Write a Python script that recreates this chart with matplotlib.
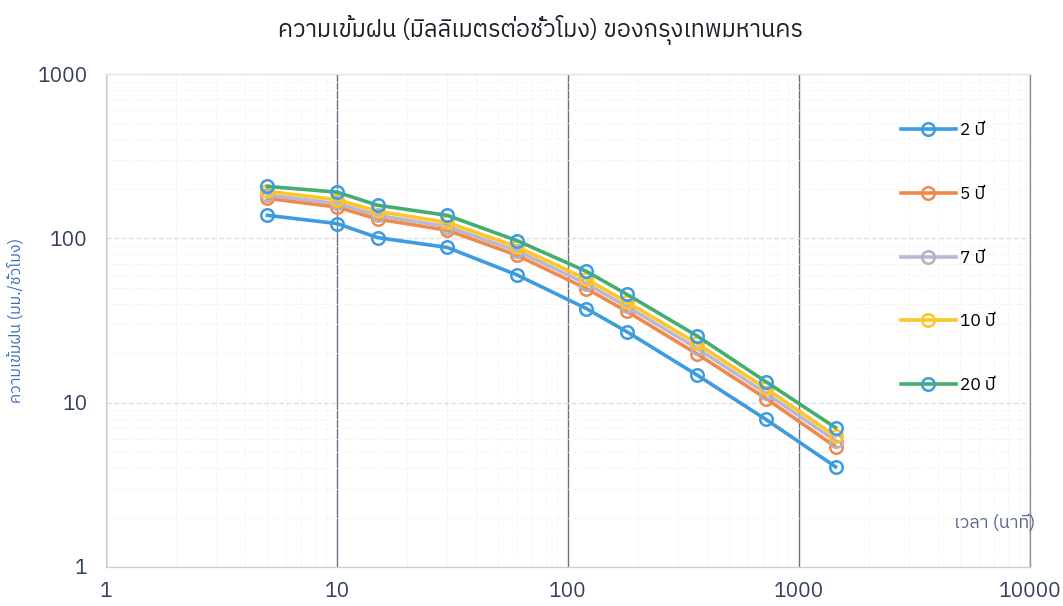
import matplotlib
matplotlib.use("Agg")
import matplotlib.pyplot as plt
from matplotlib import font_manager
from matplotlib.ft2font import FT2Font
from matplotlib.ticker import LogLocator, FixedLocator, NullFormatter

# ---- find a font with Thai glyphs ----
thai_family = None
cands = []
for f in font_manager.fontManager.ttflist:
    try:
        cm = FT2Font(f.fname).get_charmap()
        if 0x0E01 in cm and 0x0E35 in cm:
            cands.append(f.name)
    except Exception:
        pass
pref = [c for c in cands if "Thai" in c and "Looped" not in c]
if pref:
    thai_family = pref[0]
elif cands:
    thai_family = cands[0]
fams = ([thai_family] if thai_family else []) + ["DejaVu Sans"]
plt.rcParams['font.family'] = fams

# ---- data ----
duration_min = [5, 10, 15, 30, 60, 120, 180, 360, 720, 1440]
series_names = ["2 ปี", "5 ปี", "7 ปี", "10 ปี", "20 ปี"]
rp2 = [138, 123, 101, 88, 60, 37.4, 27, 14.8, 7.9, 4.07]
rp5 = [175, 155, 131, 112, 79, 49.5, 35.9, 19.9, 10.6, 5.39]
rp7 = [183, 163, 138, 118, 84, 53, 38.5, 21.5, 11.4, 5.85]
rp10 = [193, 172, 146, 125, 89, 56.5, 41, 23, 12.2, 6.25]
rp20 = [207, 191, 159, 138, 97, 63, 45.6, 25.6, 13.4, 7.04]
title = "ความเข้มฝน (มิลลิเมตรต่อชั่วโมง) ของกรุงเทพมหานคร"
ylabel = "ความเข้มฝน (มม./ชั่วโมง)"
xlabel = "เวลา (นาที)"
xticks = [1, 10, 100, 1000, 10000]
yticks = [1, 10, 100, 1000]

line_colors = ["#3D9BE0", "#F0894A", "#B8B8D6", "#FFC425", "#45AD6E"]
marker_colors = ["#3D9BE0", "#F0894A", "#B0B0C8", "#FFC425", "#3D9BE0"]

fig = plt.figure(figsize=(10.63, 6.06), dpi=100)
ax = fig.add_axes([106/1063, 1-567/606, (1030-106)/1063, (567-74)/606])
ax.set_xscale('log')
ax.set_yscale('log')
ax.set_xlim(1, 10000)
ax.set_ylim(1, 1000)

for vals, name, lc, mc in zip([rp2, rp5, rp7, rp10, rp20], series_names, line_colors, marker_colors):
    ax.plot(duration_min, vals, color=lc, lw=2.6, marker='o', markersize=9,
            markerfacecolor='none', markeredgecolor=mc, markeredgewidth=1.8,
            label=name, zorder=3)

ax.xaxis.set_major_locator(FixedLocator(xticks))
ax.yaxis.set_major_locator(FixedLocator(yticks))
ax.set_xticklabels([str(t) for t in xticks])
ax.set_yticklabels([str(t) for t in yticks])
ax.xaxis.set_minor_locator(LogLocator(base=10, subs=range(2, 10)))
ax.yaxis.set_minor_locator(LogLocator(base=10, subs=range(2, 10)))
ax.xaxis.set_minor_formatter(NullFormatter())
ax.yaxis.set_minor_formatter(NullFormatter())

ax.grid(which='minor', axis='both', color='#F3F3F7', lw=0.7, ls=(0, (3, 2)))
ax.grid(which='major', axis='y', color='#DADAE2', lw=0.9, ls=(0, (4, 2)))
ax.grid(which='major', axis='x', color='#6E6E86', lw=1.0)

for s in ax.spines.values():
    s.set_color('#CDCDD6')
    s.set_linewidth(0.9)
ax.spines['right'].set_color('#8A8A9A')
ax.spines['top'].set_color('#E2E2EA')

ax.tick_params(which='both', length=0, labelsize=15, labelcolor='#33405C')
ax.tick_params(axis='x', pad=11)
ax.tick_params(axis='y', pad=13)

fig.text(540/1063, 1-30/606, title, ha='center', va='center', fontsize=17, color='#1E1E2A')
ax.set_ylabel(ylabel, fontsize=11.5, color='#3E6FB8', labelpad=10)
ax.text(1.006, 0.09, xlabel, transform=ax.transAxes, ha='right', va='center',
        fontsize=13, color='#5A6A8A')

leg = ax.legend(loc='upper left', bbox_to_anchor=(0.843, 0.934), frameon=False,
                fontsize=12.5, labelspacing=2.75, handlelength=3.2, handletextpad=0.25)

fig.savefig("out.png", dpi=100, facecolor='white')
